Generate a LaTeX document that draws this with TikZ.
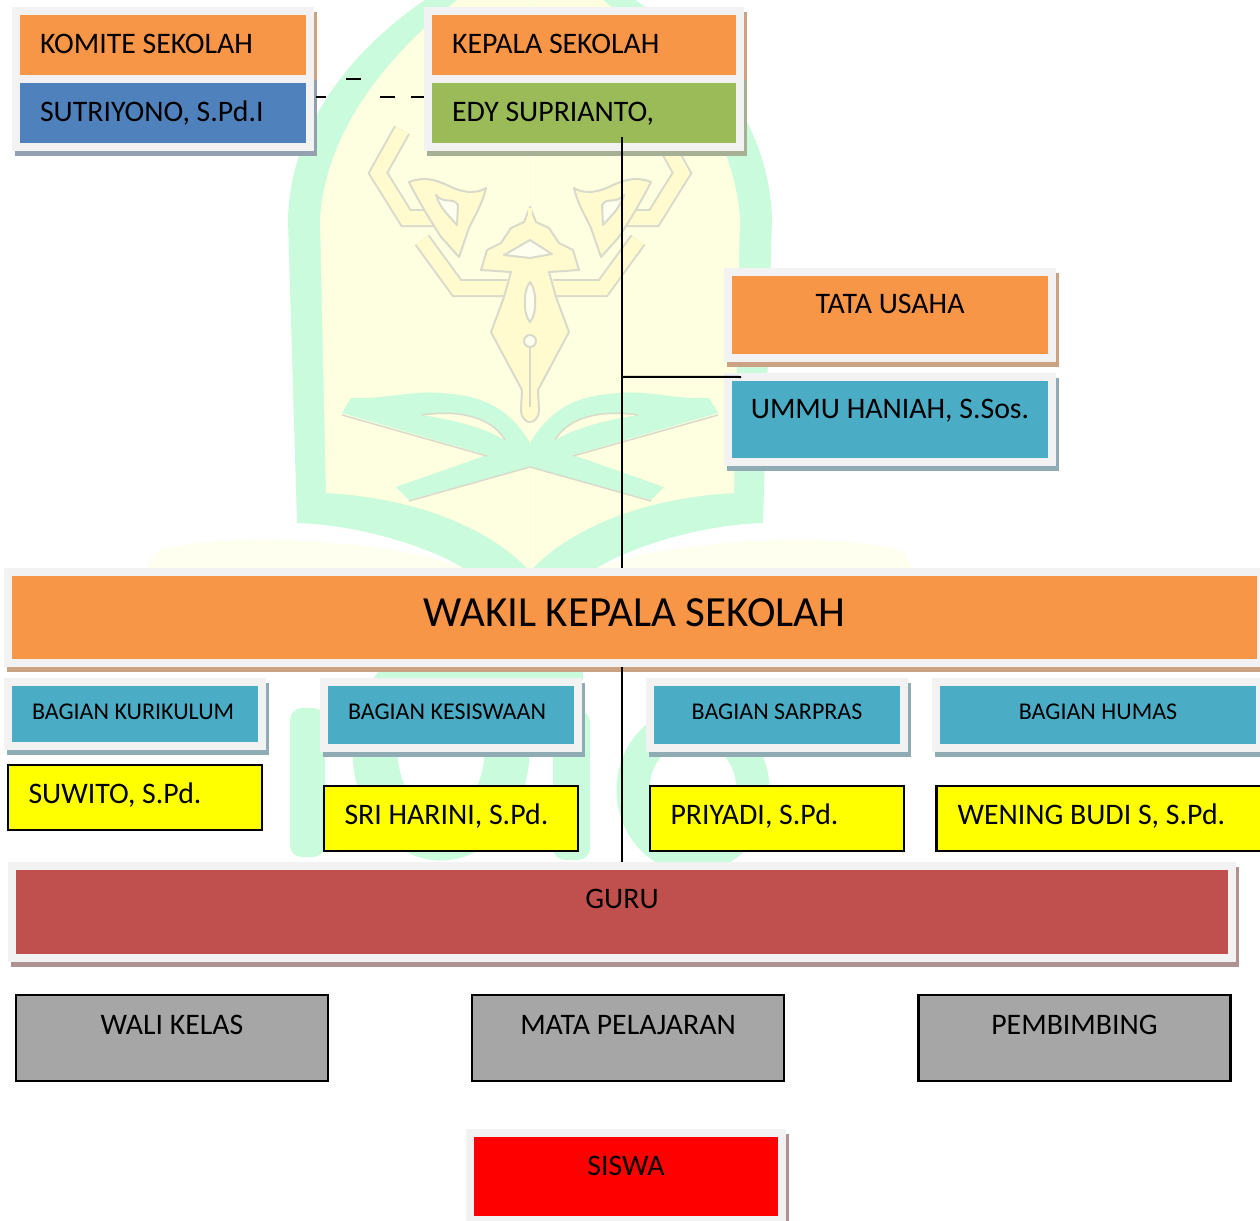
\documentclass[tikz,border=0pt]{standalone}
\usepackage{fontspec}
\setmainfont{Carlito}
\usepackage{xcolor}
\usetikzlibrary{shadows}
\definecolor{framegray}{HTML}{F2F2F2}
\definecolor{orangefill}{HTML}{F79646}
\definecolor{orangeshade}{HTML}{CBA382}
\definecolor{bluefill}{HTML}{4F81BD}
\definecolor{blueshade}{HTML}{92A0B0}
\definecolor{greenfill}{HTML}{9BBB59}
\definecolor{greenshade}{HTML}{A6B094}
\definecolor{tealfill}{HTML}{4BACC6}
\definecolor{tealshade}{HTML}{8FABB3}
\definecolor{brownfill}{HTML}{C0504D}
\definecolor{brownshade}{HTML}{B09191}
\definecolor{grayfill}{HTML}{A6A6A6}
\definecolor{yellowfill}{HTML}{FFFF00}
\definecolor{redfill}{HTML}{FF0000}
\definecolor{markgreen}{HTML}{CAFBDC}
\definecolor{markyellow}{HTML}{FEFFE0}
\definecolor{markgold}{HTML}{FFFBCF}
\definecolor{markpale}{HTML}{FEFFEE}
\definecolor{markline}{HTML}{DADACB}
\tikzset{
  wh/.style n args={2}{minimum width=#1pt,minimum height=#2pt},
  toptext/.style={text height=20pt,text depth=#1pt},
  lefttext/.style={align=flush left,text width=#1pt},
  panel/.style n args={2}{draw=framegray,line width=8pt,fill=#1,inner sep=0pt,outer sep=0pt,
    general shadow={draw=#2,line width=8pt,fill=#2,shadow xshift=3pt,shadow yshift=-5pt}},
  namebox/.style={draw=black,line width=2.4pt,fill=#1,inner sep=0pt,outer sep=0pt},
  bodytext/.style={font=\fontsize{29.8}{32}\selectfont},
  smalltext/.style={font=\fontsize{24}{26}\selectfont},
  bigtext/.style={font=\fontsize{43}{46}\selectfont},
  markstroke/.style={draw=markline,line width=2pt,fill=markgold,line join=round},
  markband/.style={line join=miter,draw=markline,double=markgold,double distance=14pt,line width=2pt}
}
\begin{document}
\begin{tikzpicture}[x=1pt,y=-1pt]
\useasboundingbox (0,0) rectangle (1260,1220);
% watermark
\foreach \side in {-1,1} {
\begin{scope}[shift={(530,0)},xscale=\side]
  \fill[markpale] (-383,568) -- (-373,552) .. controls (-340,538) and (-250,538) .. (-196,543)
    .. controls (-140,548) and (-100,555) .. (-67,568) -- cycle;
  \fill[markgreen] (-67,568) .. controls (-95,550) and (-165,525) .. (-233,523)
    -- (-242,220) .. controls (-240,120) and (-170,40) .. (-90,-10) -- (0,-10) -- (0,568) -- cycle;
  \fill[markyellow] (-3,568) .. controls (-40,530) and (-110,498) .. (-204,493)
    -- (-210,220) .. controls (-205,130) and (-140,50) .. (-60,-10) -- (0,-10) -- (0,568) -- cycle;
  % arms of the pen
  \draw[markband] (-23,288) -- (-73,288) -- (-108,240);
  \draw[markband] (-89,218) -- (-124,218) -- (-152,173) -- (-128,130);
  % leaf
  \draw[markstroke] (-121,182) .. controls (-105,176) and (-95,180) .. (-83,185)
    .. controls (-70,192) and (-55,195) .. (-44,188) .. controls (-48,205) and (-55,215) .. (-61,228)
    -- (-71,257) -- (-89,237) .. controls (-100,220) and (-112,200) .. (-121,182) -- cycle;
  \draw[markstroke,fill=markpale] (-94,195) .. controls (-85,205) and (-78,196) .. (-72,205)
    -- (-73,225) .. controls (-82,215) and (-90,208) .. (-94,195) -- cycle;
  % crown and nib
  \draw[markstroke] (0,207) -- (-6,222) -- (-19,228) -- (-29,243) -- (-43,250) -- (-49,270) -- (-19,272)
    -- (-26,297) -- (-39,332) -- (-8,390) -- (-9,410) .. controls (-9,418) and (-4,422) .. (0,422)
    -- (0,207) -- cycle;
  % book
  \fill[markgreen] (-188,413) -- (-179,398) .. controls (-150,400) and (-115,390) .. (-89,393)
    .. controls (-60,395) and (-25,400) .. (0,443) -- (0,467) -- (-121,500) -- (-134,487) -- (-43,455) -- cycle;
  \fill[markyellow] (-108,415) .. controls (-75,410) and (-40,415) .. (-25,440)
    .. controls (-45,428) and (-75,420) .. (-108,415) -- cycle;
  \draw[markline,line width=1.5pt] (-188,415) -- (-43,456) (-121,501) -- (0,467) (-108,415) .. controls (-75,410) and (-40,415) .. (-25,440);
\end{scope}
}
\fill[markgold] (528,208) rectangle (532,421);
\draw[markline,line width=1.5pt] (530,348) -- (530,407);
\draw[markstroke,fill=markpale] (530,282) .. controls (537,290) and (537,315) .. (530,322) .. controls (523,315) and (523,290) .. (530,282) -- cycle;
\draw[markstroke,fill=markpale] (530,341) circle (6);
\draw[markstroke,fill=markpale] (504,255) -- (530,240) -- (552,254) -- (530,258) -- cycle;
% letters at the foot
\fill[markgreen,rounded corners=12pt] (290,708) rectangle (325,857);
\draw[markgreen,line width=45pt] (441,750) ellipse (66 and 88);
\fill[markgreen,rounded corners=12pt] (553,710) rectangle (590,860);
\draw[markgreen,line width=33pt] (693,790) ellipse (60 and 66);
\fill[markgreen] (477,680) rectangle (583,668);
\fill[white] (330,680) rectangle (620,690);
% komite
\node[panel={orangefill}{orangeshade},wh={294}{68},bodytext,lefttext=246,toptext=3.4] (komite) at (163,45) {KOMITE SEKOLAH};
\node[panel={bluefill}{blueshade},wh={294}{68},bodytext,lefttext=246,toptext=2.6] (sutri) at (163,113) {SUTRIYONO, S.Pd.I};
% kepala
\node[panel={orangefill}{orangeshade},wh={312}{68},bodytext,lefttext=264,toptext=3.4] (kepala) at (584,45) {KEPALA SEKOLAH};
\node[panel={greenfill}{greenshade},wh={312}{68},bodytext,lefttext=264,toptext=2.6] (edy) at (584,113) {EDY SUPRIANTO,};
% tata usaha
\node[panel={orangefill}{orangeshade},wh={324}{86},bodytext,toptext=23.4] (tata) at (890,315) {TATA USAHA};
\node[panel={tealfill}{tealshade},wh={324}{85.5},bodytext,toptext=22.4] (ummu) at (890,419.5) {UMMU HANIAH, S.Sos.};
% wakil
\node[panel={orangefill}{orangeshade},wh={1253}{91},bigtext,toptext=3] (wakil) at (634.5,617.5) {WAKIL KEPALA SEKOLAH};
% bagian
\node[panel={tealfill}{tealshade},wh={254}{64},smalltext,lefttext=206,toptext=9.4] (kurikulum) at (135,714) {BAGIAN KURIKULUM};
\node[panel={tealfill}{tealshade},wh={254}{66},smalltext,lefttext=206,toptext=11.4] (kesiswaan) at (451,715) {BAGIAN KESISWAAN};
\node[panel={tealfill}{tealshade},wh={254}{66},smalltext,toptext=11.4] (sarpras) at (777,715) {BAGIAN SARPRAS};
\node[panel={tealfill}{tealshade},wh={324}{66},smalltext,toptext=11.4] (humas) at (1098,715) {BAGIAN HUMAS};
% nama
\node[namebox=yellowfill,wh={253.5}{65.5},bodytext,lefttext=213,toptext=8.4] (suwito) at (135,797.5) {SUWITO, S.Pd.};
\node[namebox=yellowfill,wh={253.5}{65.5},bodytext,lefttext=213,toptext=9] (sri) at (451,818.5) {SRI HARINI, S.Pd.};
\node[namebox=yellowfill,wh={253.5}{65.5},bodytext,lefttext=213,toptext=9] (priyadi) at (777,818.5) {PRIYADI, S.Pd.};
\node[namebox=yellowfill,wh={326}{65.5},bodytext,lefttext=284,toptext=9] (wening) at (1099.5,818.5) {WENING BUDI S, S.Pd.};
% guru
\node[panel={brownfill}{brownshade},wh={1220}{92},bodytext,toptext=28] (guru) at (622,912) {GURU};
\node[namebox=grayfill,wh={312}{86},bodytext,toptext=28] (wali) at (172,1038) {WALI KELAS};
\node[namebox=grayfill,wh={312}{86},bodytext,toptext=28] (mapel) at (628,1038) {MATA PELAJARAN};
\node[namebox=grayfill,wh={312}{86},bodytext,toptext=28] (pembimbing) at (1074.5,1038) {PEMBIMBING};
\node[panel={redfill}{brownshade},wh={312}{86.7},bodytext,toptext=23] (siswa) at (626,1176.5) {SISWA};
% connectors
\coordinate (edyfoot) at (622,137);
\coordinate (ummutick) at (741,377);
\coordinate (straya) at (346,79);
\coordinate (strayb) at (361,79);
\draw[line width=1.5pt,shorten >=4pt] (edyfoot) -- (edyfoot |- wakil.north);
\draw[line width=1.5pt,shorten <=4pt,shorten >=4pt] (edyfoot |- wakil.south) -- (edyfoot |- guru.north);
\draw[line width=2pt] (edyfoot |- ummu.north) -- (ummutick);
\draw[line width=1.5pt,dash pattern={on 13pt off 16pt on 15pt off 54pt on 10pt}] ([yshift=16pt,xshift=-4pt]edy.west) -- ([yshift=16pt,xshift=4pt]sutri.east);
\draw[line width=1.5pt] (straya) -- (strayb);
\end{tikzpicture}
\end{document}
